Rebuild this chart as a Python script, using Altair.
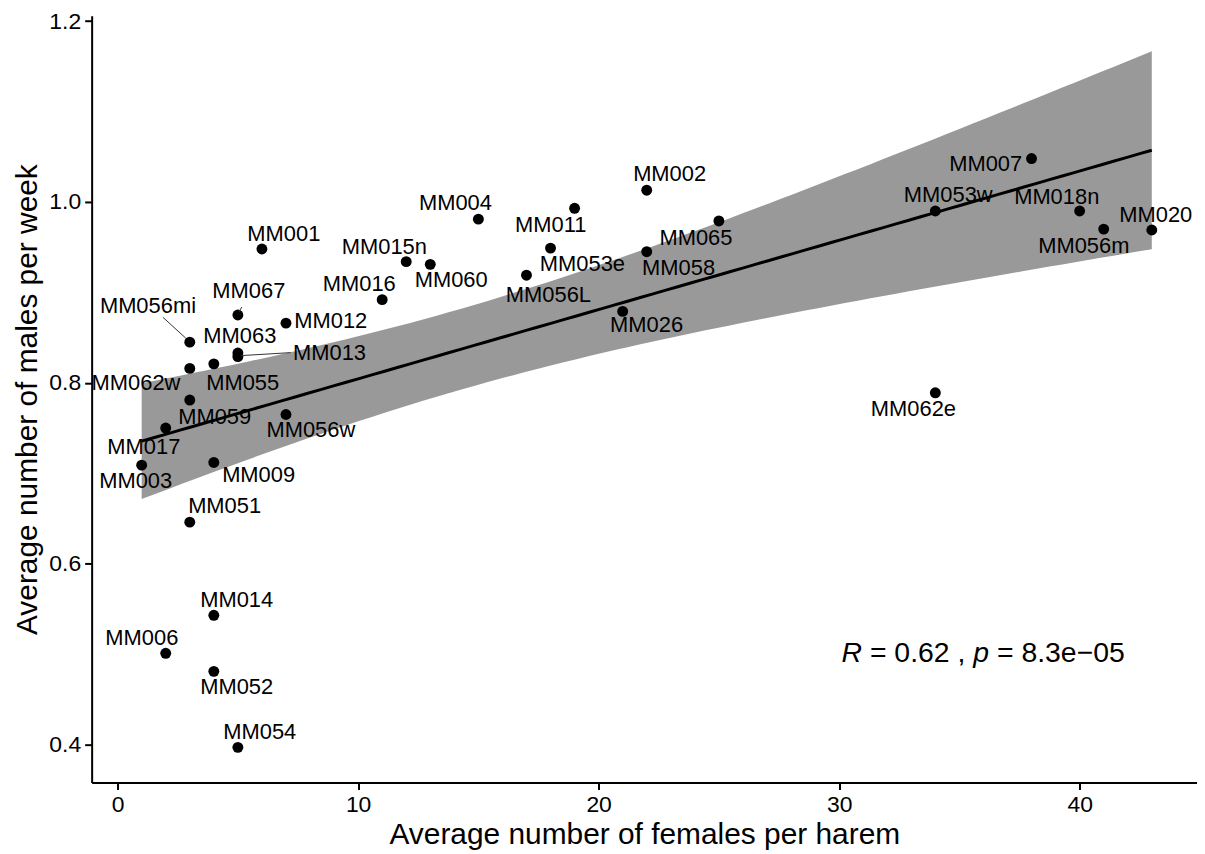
import altair as alt
import numpy as np
import pandas as pd

# ---- data ----
ids = ["MM001", "MM002", "MM003", "MM004", "MM006", "MM007", "MM009", "MM011",
       "MM012", "MM013", "MM014", "MM015n", "MM016", "MM017", "MM018n", "MM020",
       "MM026", "MM051", "MM052", "MM053e", "MM053w", "MM054", "MM055", "MM056L",
       "MM056m", "MM056mi", "MM056w", "MM058", "MM059", "MM060", "MM062e", "MM062w",
       "MM063", "MM065", "MM067"]
females = [6, 22, 1, 15, 2, 38, 4, 19,
           7, 5, 4, 12, 11, 2, 40, 43,
           21, 3, 4, 18, 34, 5, 4, 17,
           41, 3, 7, 22, 3, 13, 34, 3,
           5, 25, 5]
males = [0.948, 1.013, 0.709, 0.981, 0.501, 1.048, 0.712, 0.993,
         0.866, 0.829, 0.543, 0.934, 0.892, 0.750, 0.990, 0.969,
         0.879, 0.646, 0.481, 0.949, 0.990, 0.397, 0.821, 0.919,
         0.970, 0.845, 0.765, 0.945, 0.781, 0.931, 0.789, 0.816,
         0.833, 0.979, 0.875]

# ---- layout (label offsets in pixels, relative to each point) ----
label_offsets = {
    "MM001": (22, -15), "MM002": (23, -16), "MM003": (-6, 16), "MM004": (-23, -16),
    "MM006": (-24, -15), "MM007": (-46, 6), "MM009": (45, 13), "MM011": (-24, 17),
    "MM012": (45, -2), "MM013": (92, -4), "MM014": (23, -15), "MM015n": (-22, -15),
    "MM016": (-23, -16), "MM017": (-22, 19), "MM018n": (-23, -14), "MM020": (4, -15),
    "MM026": (24, 14), "MM051": (35, -16), "MM052": (23, 16), "MM053e": (32, 16),
    "MM053w": (13, -16), "MM054": (22, -15), "MM055": (29, 19), "MM056L": (22, 20),
    "MM056m": (-20, 17), "MM056mi": (-42, -36), "MM056w": (25, 16), "MM058": (32, 16),
    "MM059": (25, 17), "MM060": (21, 16), "MM062e": (-22, 16), "MM062w": (-54, 15),
    "MM063": (2, -17), "MM065": (-23, 17), "MM067": (11, -24),
}
segments = {  # (start dx, dy, end dx, dy) in pixels from point
    "MM056mi": (-27, -25, -4, -4),
    "MM013": (3, -1, 53, -4),
    "MM067": (4, -8, 1, -3),
}

W, H = 1110, 770
XD = [-1.08, 44.88]
YD = [0.3581, 1.2059]
px_x = W / (XD[1] - XD[0])
px_y = H / (YD[1] - YD[0])

df = pd.DataFrame({"id": ids, "x": females, "y": males})
df["lx"] = [x + label_offsets[i][0] / px_x for i, x in zip(ids, females)]
df["ly"] = [y - label_offsets[i][1] / px_y for i, y in zip(ids, males)]

seg_rows = []
for i, (a, b, c, d) in segments.items():
    r = df[df.id == i].iloc[0]
    seg_rows.append({"x": r.x + a / px_x, "y": r.y - b / px_y,
                     "x2": r.x + c / px_x, "y2": r.y - d / px_y})
seg_df = pd.DataFrame(seg_rows)

# ---- linear fit with 95% confidence band (as geom_smooth(method = "lm")) ----
xa = np.array(females, float)
ya = np.array(males, float)
n = len(xa)
b1, b0 = np.polyfit(xa, ya, 1)
res = ya - (b0 + b1 * xa)
s = np.sqrt(np.sum(res ** 2) / (n - 2))
xm = xa.mean()
sxx = np.sum((xa - xm) ** 2)
tcrit = 2.0345
grid = np.linspace(xa.min(), xa.max(), 80)
fit = b0 + b1 * grid
se = s * np.sqrt(1 / n + (grid - xm) ** 2 / sxx)
fit_df = pd.DataFrame({"x": grid, "fit": fit, "lo": fit - tcrit * se, "hi": fit + tcrit * se})

FONT = "Liberation Sans"
xs = alt.Scale(domain=XD, nice=False, zero=False)
ys = alt.Scale(domain=YD, nice=False, zero=False)

xaxis = alt.Axis(values=[0, 10, 20, 30, 40], title="Average number of females per harem",
                 grid=False, labelFlush=False)
yaxis = alt.Axis(values=[0.4, 0.6, 0.8, 1.0, 1.2], format=".1f",
                 title="Average number of males per week", grid=False)

band = alt.Chart(fit_df).mark_area(color="#999999", opacity=1).encode(
    x=alt.X("x:Q", scale=xs, axis=xaxis),
    y=alt.Y("lo:Q", scale=ys, axis=yaxis),
    y2="hi:Q",
)
line = alt.Chart(fit_df).mark_line(color="black", strokeWidth=3).encode(
    x=alt.X("x:Q", scale=xs), y=alt.Y("fit:Q", scale=ys)
)
pts = alt.Chart(df).mark_circle(color="black", opacity=1, size=120).encode(
    x=alt.X("x:Q", scale=xs), y=alt.Y("y:Q", scale=ys)
)
segs = alt.Chart(seg_df).mark_rule(color="#333333", strokeWidth=1).encode(
    x=alt.X("x:Q", scale=xs), y=alt.Y("y:Q", scale=ys), x2="x2:Q", y2="y2:Q"
)
labels = alt.Chart(df).mark_text(font=FONT, fontSize=22, color="black",
                                 align="center", baseline="middle").encode(
    x=alt.X("lx:Q", scale=xs), y=alt.Y("ly:Q", scale=ys), text="id:N"
)

ann_df = pd.DataFrame({"x": [30.1], "y": [0.501]})
fs = 28.5
parts = [("R", "italic", 0.0), ("= 0.62 ,", "normal", 1.0),
         ("p", "italic", 4.642), ("= 8.3e\u221205", "normal", 5.476)]
ann_layers = []
for txt, style, off in parts:
    ann_layers.append(
        alt.Chart(ann_df).mark_text(font=FONT, fontSize=fs, fontStyle=style, color="black",
                                    align="left", baseline="middle", dx=off * fs).encode(
            x=alt.X("x:Q", scale=xs), y=alt.Y("y:Q", scale=ys), text=alt.value(txt)
        )
    )

chart = alt.layer(band, line, pts, segs, labels, *ann_layers).properties(
    width=W, height=H,
    autosize=alt.AutoSizeParams(type="none"),
    padding={"left": 84, "top": 6, "right": 0, "bottom": 66},
).configure_view(stroke=None).configure_axis(
    domainColor="black", domainWidth=2, tickColor="black", tickWidth=2, tickSize=7,
    labelColor="black", labelFont=FONT, labelFontSize=23, labelPadding=4,
    titleColor="black", titleFont=FONT, titleFontSize=30, titleFontWeight="normal",
).configure_axisY(titlePadding=6).configure_axisX(titlePadding=3)

chart.save("out.html", embed_options={"renderer": "svg", "actions": False})
